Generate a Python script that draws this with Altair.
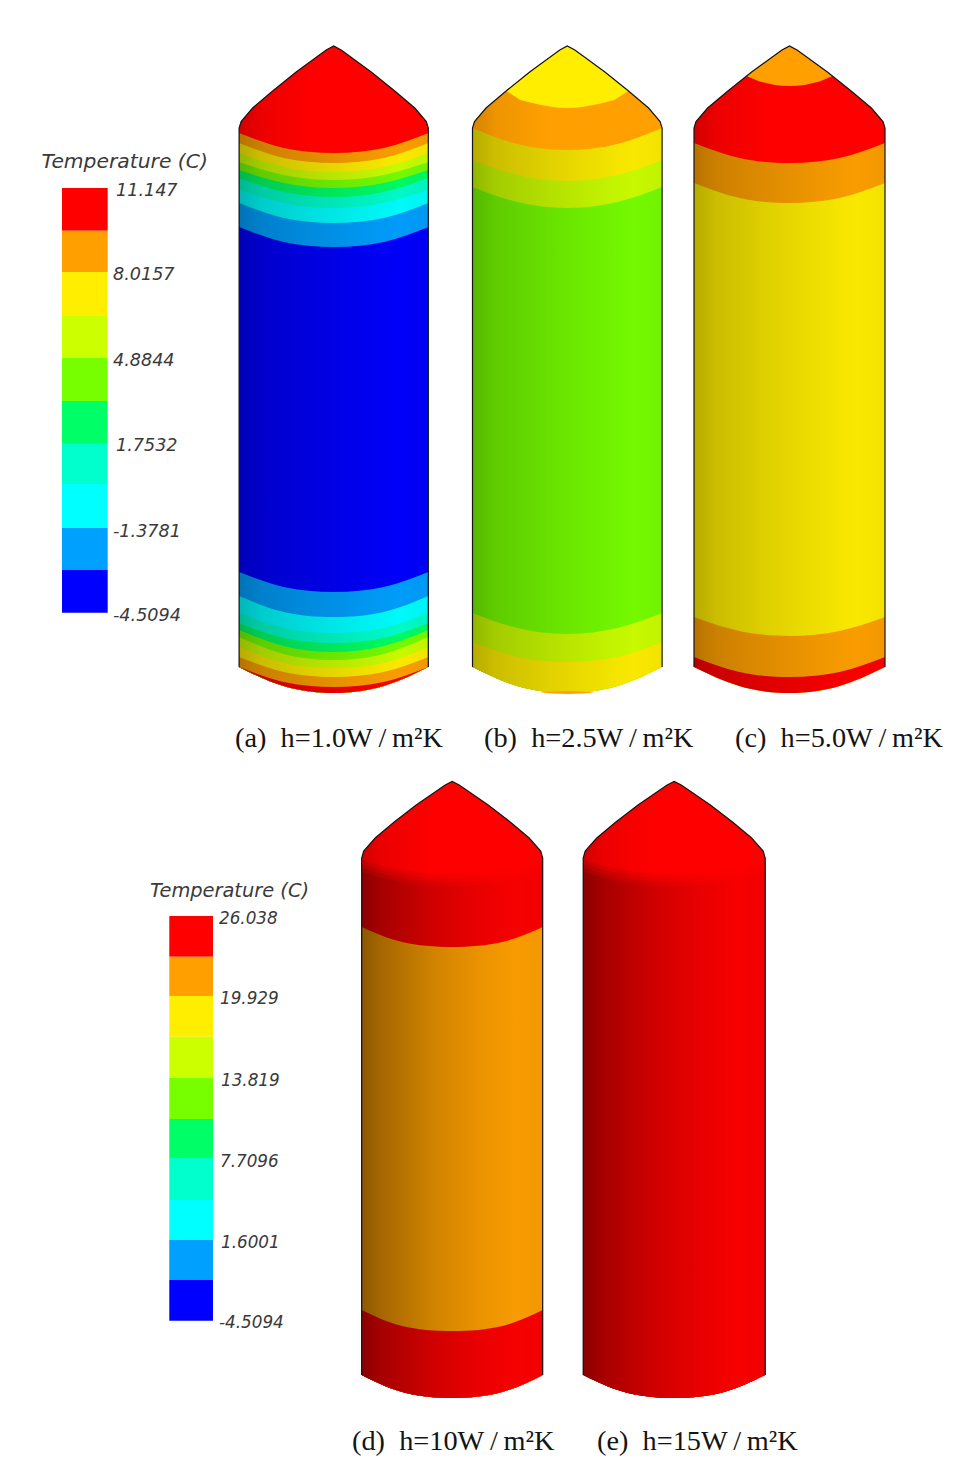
import altair as alt
import pandas as pd

# ---------- colours of the ten legend classes ----------
CLASS_COLORS = {"red": "#ff0000", "orange": "#ffa000", "yellow": "#ffee00", "lime": "#ccff00",
                "green": "#77ff00", "spring": "#00ff66", "teal": "#00ffcc", "cyan": "#00ffff",
                "azure": "#00a0ff", "blue": "#0000ff"}
LEGEND_ORDER = ["red", "orange", "yellow", "lime", "green", "spring", "teal", "cyan", "azure", "blue"]

# ---------- legends ----------
LEG1_EDGES = [188, 230.7, 272, 316, 358, 401, 443, 484, 528, 570, 612.7]
LEG1_X = [62, 107.7]
LEG1_LABELS = ["11.147", "8.0157", "4.8844", "1.7532", "-1.3781", "-4.5094"]
LEG1_LX = [116, 113, 113, 116, 113, 113]
LEG1_LY = [190.7, 275, 361, 446, 532, 616]

LEG2_EDGES = [916, 956.7, 996, 1036.7, 1077.7, 1119, 1158, 1200, 1240, 1280, 1320.7]
LEG2_X = [169.3, 213]
LEG2_LABELS = ["26.038", "19.929", "13.819", "7.7096", "1.6001", "-4.5094"]
LEG2_LX = [219, 220, 221, 220, 221, 219]
LEG2_LY = [919, 999, 1080.7, 1161.7, 1242.7, 1323]

# ---------- captions ----------
SP = "\u00a0\u00a0"
TH = "\u2009"
CAPTIONS = [f"(a){SP}h=1.0W{TH}/{TH}m²K", f"(b){SP}h=2.5W{TH}/{TH}m²K", f"(c){SP}h=5.0W{TH}/{TH}m²K",
            f"(d){SP}h=10W{TH}/{TH}m²K", f"(e){SP}h=15W{TH}/{TH}m²K"]
CAP_X = [235, 484, 735, 352, 597]
CAP_Y = [747, 747, 747, 1450, 1450]

# ---------- tanks: colour bands, upper edge read at five stations across each tank ----------
A_COLORS = ["orange", "yellow", "lime", "green", "spring", "teal", "cyan", "azure", "blue",
            "azure", "cyan", "teal", "spring", "green", "lime", "yellow", "orange", "red"]
A_EDGES = [[133, 148, 153, 148, 133], [143, 158, 163, 158, 143], [153, 167, 172, 167, 153],
           [162, 175, 180, 175, 162], [170, 183, 188, 183, 170], [178, 192, 197, 192, 178],
           [190, 203, 208, 203, 190], [203, 218, 223, 218, 203], [227, 242, 247, 242, 227],
           [572, 587, 592, 587, 572], [596, 612, 617, 612, 596], [613, 628, 633, 628, 613],
           [623, 638, 643, 638, 623], [630, 646, 652, 646, 630], [637, 654, 660, 654, 637],
           [647, 663, 668, 663, 647], [657, 672, 677, 672, 657], [667, 682, 687, 682, 667]]
B_COLORS = ["yellow", "lime", "green", "lime", "yellow"]
B_EDGES = [[128, 144, 150, 144, 128], [160, 175, 181, 175, 160], [187, 202, 208, 202, 187],
           [613, 628, 634, 628, 613], [642, 657, 662, 657, 642]]
C_COLORS = ["orange", "yellow", "orange", "red"]
C_EDGES = [[143, 158, 163, 158, 143], [183, 198, 203, 198, 183],
           [617, 631, 636, 631, 617], [657, 672, 677, 672, 657]]
D_COLORS = ["orange", "red"]
D_EDGES = [[927, 942, 947, 942, 927], [1310, 1326, 1331, 1326, 1310]]

BOTTOM_AC = [667, 686, 693, 686, 667]
BOTTOM_DE = [1375, 1392, 1398, 1392, 1375]
# soft transition under the bright cap of d and e
SHOULDER_EDGES = [[860, 870, 874, 870, 860], [864, 874, 878, 874, 864],
                  [868, 878, 882, 878, 868], [872, 882, 886, 882, 872]]
SHOULDER_MIX = [.25, .5, .75, 1]

# silhouettes of the caps
CAP_DX_1 = [-94.5, -92.5, -81, -61, -37.5, -7.5, 0, 7.5, 37.5, 61, 81, 92.5, 94.5]
CAP_Y_1 = [128, 121.5, 108, 91, 72, 50, 46, 50, 72, 91, 108, 121.5, 128]
CAP_DX_2 = [-90.5, -88.5, -77, -58, -36, -7, 0, 7, 36, 58, 77, 88.5, 90.5]
CAP_Y_2 = [858, 851, 838, 822, 805, 785, 781.5, 785, 805, 822, 838, 851, 858]

TANKS = {
    "a": dict(cx=333.7, hw=94.6, apex=1),
    "b": dict(cx=567.3, hw=94.8, apex=1),
    "c": dict(cx=789.5, hw=95.5, apex=1),
    "d": dict(cx=452.2, hw=90.5, apex=2),
    "e": dict(cx=674.2, hw=91.0, apex=2),
}

# cap tips and small patches
TIP_B_DX = [-61, -47, -31, -15, -7.5, 0, 7.5, 15, 31, 47, 61]
TIP_B_TOP = [91, 80, 67.5, 55.5, 50.5, 46.5, 50.5, 55.5, 67.5, 80, 91]
TIP_B_BOT = [91, 100, 104, 107, 107.7, 108, 107.7, 107, 104, 100, 91]
TIP_C_DX = [-43, -30, -15, -7.5, 0, 7.5, 15, 30, 43]
TIP_C_TOP = [76, 66.5, 55.5, 50.5, 46.5, 50.5, 55.5, 66.5, 76]
TIP_C_BOT = [76, 81.5, 85, 85.7, 86, 85.7, 85, 81.5, 76]
PATCH_B_DX = [-28, 0, 28]
PATCH_B_TOP = [692.5, 691, 692.5]
PATCH_B_BOT = [692.5, 694, 692.5]

# shading across a tank
SHADE_OFFSETS = [0, .12, .4, .65, .85, 1]
SHADE_BODY_1 = [.72, .80, .88, .94, .98, .95]
SHADE_BODY_2 = [.55, .66, .82, .92, .97, .95]
SHADE_CAP = [.82, .93, 1, 1, 1, 1]
SHADE_FLAT = [1, 1, 1, 1, 1, 1]

X0, X1, Y0, Y1 = 8, 945, 8, 1458
scx = alt.Scale(domain=[X0, X1], range=[0, X1 - X0], nice=False, zero=False)
scy = alt.Scale(domain=[Y1, Y0], range=[Y1 - Y0, 0], nice=False, zero=False)
xe = alt.X("x:Q", scale=scx, axis=None)
ye = alt.Y("y:Q", scale=scy, axis=None)


def grad(color, shade):
    r, g, b = (int(color[i:i + 2], 16) for i in (1, 3, 5))
    stops = [alt.GradientStop(color="#%02x%02x%02x" % (int(r * m), int(g * m), int(b * m)), offset=o)
             for o, m in zip(SHADE_OFFSETS, shade)]
    return alt.Gradient(gradient="linear", stops=stops, x1=0, x2=1, y1=0, y2=0)


def area(xs, top, bot, fill, interp="natural"):
    df = pd.DataFrame({"x": xs, "y": top, "y2": bot})
    return alt.Chart(df).mark_area(color=fill, interpolate=interp, orient="vertical").encode(
        x=xe, y=ye, y2="y2:Q")


def stations(t):
    return [t["cx"] - t["hw"], t["cx"] - 50, t["cx"], t["cx"] + 50, t["cx"] + t["hw"]]


def cap_xy(t):
    dx, ys = (CAP_DX_1, CAP_Y_1) if t["apex"] == 1 else (CAP_DX_2, CAP_Y_2)
    dx = [d * t["hw"] / abs(dx[0]) for d in dx]
    return [t["cx"] + d for d in dx], ys


layers = []


def tank(key, first, colors, edges, bottom, shade):
    t = TANKS[key]
    xs = stations(t)
    cx_, cy_ = cap_xy(t)
    limit = max(edges[0])
    layers.append(area(cx_, cy_, [limit] * len(cx_), grad(CLASS_COLORS[first], SHADE_CAP), "linear"))
    for name, e in zip(colors, edges):
        layers.append(area(xs, e, bottom, grad(CLASS_COLORS[name], shade)))


tank("a", "red", A_COLORS, A_EDGES, BOTTOM_AC, SHADE_BODY_1)
tank("b", "orange", B_COLORS, B_EDGES, BOTTOM_AC, SHADE_BODY_1)
tank("c", "red", C_COLORS, C_EDGES, BOTTOM_AC, SHADE_BODY_1)

# d and e: soft shoulder below the bright cap
for key in ["d", "e"]:
    t = TANKS[key]
    cx_, cy_ = cap_xy(t)
    layers.append(area(cx_, cy_, [SHOULDER_EDGES[0][2]] * len(cx_), grad(CLASS_COLORS["red"], SHADE_CAP), "linear"))
    for edge, mix in zip(SHOULDER_EDGES, SHOULDER_MIX):
        shade = [c + (b - c) * mix for c, b in zip(SHADE_CAP, SHADE_BODY_2)]
        layers.append(area(stations(t), edge, BOTTOM_DE, grad(CLASS_COLORS["red"], shade)))
for name, e in zip(D_COLORS, D_EDGES):
    layers.append(area(stations(TANKS["d"]), e, BOTTOM_DE, grad(CLASS_COLORS[name], SHADE_BODY_2)))

# tips
cb, cc = TANKS["b"]["cx"], TANKS["c"]["cx"]
layers.append(area([cb + d for d in TIP_B_DX], TIP_B_TOP, TIP_B_BOT, grad(CLASS_COLORS["yellow"], SHADE_FLAT), "linear"))
layers.append(area([cc + d for d in TIP_C_DX], TIP_C_TOP, TIP_C_BOT, grad(CLASS_COLORS["orange"], SHADE_FLAT), "linear"))
layers.append(area([cb + d for d in PATCH_B_DX], PATCH_B_TOP, PATCH_B_BOT, grad(CLASS_COLORS["orange"], SHADE_FLAT), "monotone"))

# black outlines
for key, bottom in [("a", BOTTOM_AC), ("b", BOTTOM_AC), ("c", BOTTOM_AC), ("d", BOTTOM_DE), ("e", BOTTOM_DE)]:
    t = TANKS[key]
    cx_, cy_ = cap_xy(t)
    xs = [cx_[0]] + cx_ + [cx_[-1]]
    ys = [bottom[0]] + cy_ + [bottom[-1]]
    df = pd.DataFrame({"x": xs, "y": ys, "i": range(len(xs))})
    layers.append(alt.Chart(df).mark_line(color="#141414", strokeWidth=1.2).encode(
        x=xe, y=ye, order=alt.Order("i:Q")))


def legend(edges, xr, labels, lx, ly, title, tx, ty, tsize, lsize):
    df = pd.DataFrame({"x": [xr[0]] * 10, "x2": [xr[1]] * 10, "y": edges[:-1], "y2": edges[1:],
                       "c": LEGEND_ORDER})
    bars = alt.Chart(df).mark_rect().encode(
        x=xe, x2="x2:Q", y=ye, y2="y2:Q",
        color=alt.Color("c:N", legend=None,
                        scale=alt.Scale(domain=LEGEND_ORDER, range=[CLASS_COLORS[k] for k in LEGEND_ORDER])))
    layers.append(bars)
    ldf = pd.DataFrame({"x": lx, "y": ly, "t": labels})
    layers.append(alt.Chart(ldf).mark_text(align="left", baseline="middle", font="DejaVu Sans", fontStyle="italic",
                                           fontSize=lsize, color="#3a3a3a").encode(x=xe, y=ye, text="t:N"))
    tdf = pd.DataFrame({"x": [tx], "y": [ty], "t": [title]})
    layers.append(alt.Chart(tdf).mark_text(align="left", baseline="middle", font="DejaVu Sans", fontStyle="italic",
                                           fontSize=tsize, color="#3a3a3a").encode(x=xe, y=ye, text="t:N"))


legend(LEG1_EDGES, LEG1_X, LEG1_LABELS, LEG1_LX, LEG1_LY, "Temperature (C)", 41.5, 161.5, 20.3, 17.6)
legend(LEG2_EDGES, LEG2_X, LEG2_LABELS, LEG2_LX, LEG2_LY, "Temperature (C)", 150, 890.5, 19.4, 16.8)

cdf = pd.DataFrame({"x": CAP_X, "y": CAP_Y, "t": CAPTIONS})
layers.append(alt.Chart(cdf).mark_text(align="left", baseline="alphabetic", font="Liberation Serif",
                                       fontSize=28.3, color="#141414").encode(x=xe, y=ye, text="t:N"))

chart = alt.layer(*layers).resolve_scale(color="independent").properties(
    width=X1 - X0, height=Y1 - Y0, padding=0
).configure_view(stroke=None)

chart.save("out.html", embed_options={"renderer": "svg", "actions": False})
